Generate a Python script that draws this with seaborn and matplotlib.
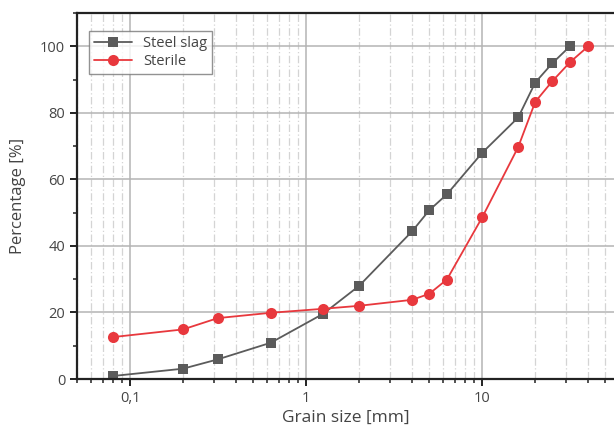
import matplotlib
matplotlib.use("Agg")
import matplotlib.pyplot as plt
import matplotlib.ticker as mticker
import seaborn as sns

# data
sieve_slag = [0.08, 0.2, 0.315, 0.63, 1.25, 2, 4, 5, 6.3, 10, 16, 20, 25, 31.5]
pass_slag = [0.9, 3.1, 5.9, 10.9, 19.6, 28.0, 44.4, 50.7, 55.5, 68.0, 78.6, 89.1, 94.9, 100]

sieve_sterile = [0.08, 0.2, 0.315, 0.63, 1.25, 2, 4, 5, 6.3, 10, 16, 20, 25, 31.5, 40]
pass_sterile = [12.6, 14.9, 18.3, 19.9, 21.1, 22.0, 23.8, 25.6, 29.9, 48.6, 69.7, 83.3, 89.5, 95.2, 100]

x_ticks = [0.1, 1, 10]
x_ticklabels = ["0,1", "1", "10"]

sns.set_style("ticks")
plt.rcParams['font.family'] = ['Open Sans', 'DejaVu Sans']

fig = plt.figure(figsize=(6.14, 4.30), dpi=100)
ax = fig.add_axes([0.1254, 0.1186, 0.8746, 0.8512])

sns.lineplot(x=sieve_slag, y=pass_slag, ax=ax, color='#5b5b5b', marker='s',
             markersize=7, markeredgewidth=0, linewidth=1.3, label='Steel slag', sort=False)
sns.lineplot(x=sieve_sterile, y=pass_sterile, ax=ax, color='#e8383d', marker='o',
             markersize=8, markeredgewidth=0, linewidth=1.3, label='Sterile', sort=False)

ax.set_xscale('log')
ax.set_xlim(0.05, 56)
ax.set_ylim(0, 110)
ax.set_xticks(x_ticks)
ax.set_xticklabels(x_ticklabels)
ax.xaxis.set_minor_locator(mticker.LogLocator(base=10, subs=range(2, 10)))
ax.xaxis.set_minor_formatter(mticker.NullFormatter())
ax.set_yticks([0, 20, 40, 60, 80, 100])
ax.yaxis.set_minor_locator(mticker.MultipleLocator(10))

ax.grid(which='major', color='#b4b4b4', linewidth=1.1, linestyle='-')
ax.grid(which='minor', axis='x', color='#d4d4d4', linewidth=0.9, linestyle=(0, (6, 2, 1, 2)))
ax.set_axisbelow(True)

for s in ['left', 'bottom', 'top']:
    ax.spines[s].set_color('#222222')
    ax.spines[s].set_linewidth(1.6)
ax.spines['right'].set_visible(False)

ax.tick_params(which='major', direction='out', length=5, width=1.4, color='#222222',
               labelsize=10.5, labelcolor='#444444')
ax.tick_params(which='minor', direction='out', length=3, width=1.1, color='#222222')

ax.set_xlabel('Grain size [mm]', fontsize=12.5, color='#444444', labelpad=3)
ax.set_ylabel('Percentage [%]', fontsize=12, color='#444444', labelpad=10)

leg = ax.legend(loc='upper left', bbox_to_anchor=(0.008, 0.972), fontsize=10.5,
                frameon=True, fancybox=False, handlelength=2.6, borderpad=0.35,
                labelspacing=0.25)
leg.get_frame().set_edgecolor('#777777')
leg.get_frame().set_linewidth(1.0)
for t in leg.get_texts():
    t.set_color('#444444')

fig.savefig('out.png', dpi=100)
